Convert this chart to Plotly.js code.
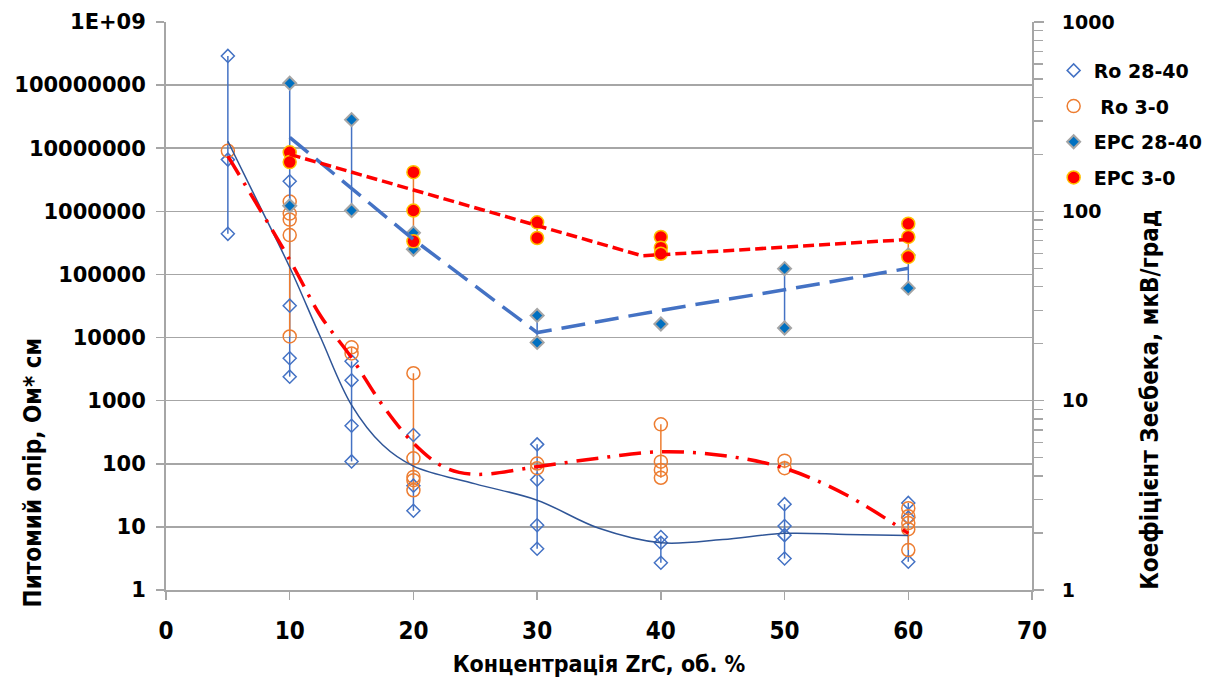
<!DOCTYPE html>
<html>
<head>
<meta charset="utf-8">
<script src="https://cdn.plot.ly/plotly-3.0.1.min.js"></script>
<style>html,body{margin:0;padding:0;background:#fff;}#chart{width:1221px;height:684px;}</style>
</head>
<body>
<div id="chart"></div>
<script>
// ---- data ----
const roX_2840 = [5,5,5, 10,10,10,10, 15,15,15,15, 20,20,20, 30,30,30,30, 40,40,40, 50,50,50,50, 60,60,60];
const roY_2840 = [2.9e8,6.6e6,4.4e5, 3.0e6,3.2e4,4.7e3,2.4e3, 4.2e3,2.1e3,400,109, 286,45,18, 203,56,10.6,4.5, 6.9,5.6,2.7, 22.9,10.3,7.4,3.15, 24,14,2.8];

const roX_30 = [5, 10,10,10,10,10, 15,15, 20,20,20,20,20, 30,30, 40,40,40,40, 50,50, 60,60,60,60,60];
const roY_30 = [9.1e6, 1.43e6,9.2e5,7.4e5,4.2e5,1.04e4, 7000,5600, 2720,122,62,55,38, 101,85, 422,108,80,60, 112,85, 19.8,14.8,11.5,9.2,4.3];

const epcX_2840 = [10,10, 15,15, 20,20, 30,30, 40, 50,50, 60,60];
const epcY_2840 = [475,107, 305,101, 77,63, 28.2,20.3, 25.4, 49.8,24.2, 58.8,39.3];

const epcX_30 = [10,10, 20,20,20, 30,30, 40,40,40, 60,60,60];
const epcY_30 = [205,182, 161,101,69.4, 87.5,72.3, 73.2,64.3,59.7, 86,73.2,57.4];

// trend lines
const trRo2840X = [5, 7.5, 10, 12.5, 15, 17.5, 20, 25, 30, 35, 40, 45, 50, 55, 60];
const trRo2840Y = [1.29e7, 1.3e6, 1.3e5, 1.0e4, 850, 200, 92, 48, 26.5, 9.5, 5.6, 6.3, 7.9, 7.6, 7.3];

const trRo30X = [5, 10, 12.5, 15, 17.5, 20, 22.5, 25, 30, 35, 40, 45, 50, 55, 60];
const trRo30Y = [7.5e6, 1.7e5, 2.2e4, 4.8e3, 850, 213, 88, 68, 90, 123, 155, 135, 85, 32, 7.9];

const trEpc2840X = [10, 20, 30, 40, 50, 60];
const trEpc2840Y = [246, 71, 22.9, 30, 38.5, 50];

const trEpc30X = [10, 38.5, 40, 60];
const trEpc30Y = [200, 58.2, 59, 71];

const leftTickVals = [1,10,100,1000,1e4,1e5,1e6,1e7,1e8,1e9];
const leftTickText = ['1','10','100','1000','10000','100000','1000000','10000000','100000000','1E+09'];
const rightTickVals = [1,10,100,1000];
const rightTickText = ['1','10','100','1000'];
const xTickVals = [0,10,20,30,40,50,60,70];

const names = ['Ro 28-40',' Ro 3-0','EPC 28-40','EPC 3-0'];
const xTitle = 'Концентрація ZrC, об. %';
const yTitle = 'Питомий опір, Ом* см';
const y2Title = 'Коефіцієнт Зеєбека, мкВ/град';

// ---- helpers ----
function verticalSegments(xs, ys){
  const groups = {};
  xs.forEach((x,i)=>{ (groups[x] = groups[x] || []).push(ys[i]); });
  const lx=[], ly=[];
  Object.keys(groups).map(Number).sort((a,b)=>a-b).forEach(x=>{
    const v = groups[x];
    lx.push(x,x,null); ly.push(Math.min(...v), Math.max(...v), null);
  });
  return {lx, ly};
}

const BLUE='#4472C4', ORANGE='#ED7D31', RED='#FF0000', DBLUE='#2F5597', FILLBLUE='#0070C0', GRAY='#A6A6A6';
const NARROW = '"Liberation Sans Narrow", "DejaVu Sans Condensed", sans-serif';
const WIDE = '"DejaVu Sans", sans-serif';

const s1 = verticalSegments(roX_2840, roY_2840);
const s2 = verticalSegments(roX_30, roY_30);
const s3 = verticalSegments(epcX_2840, epcY_2840);
const s4 = verticalSegments(epcX_30, epcY_30);

const traces = [
  {x:s1.lx, y:s1.ly, mode:'lines', line:{color:BLUE,width:1.5}, showlegend:false, hoverinfo:'skip', yaxis:'y'},
  {x:s2.lx, y:s2.ly, mode:'lines', line:{color:ORANGE,width:1.5}, showlegend:false, hoverinfo:'skip', yaxis:'y'},
  {x:roX_2840, y:roY_2840, name:names[0], legendgroup:'g1', mode:'markers', yaxis:'y',
   marker:{symbol:'diamond-open', size:10, color:BLUE, line:{width:1.5, color:BLUE}}},
  {x:roX_30, y:roY_30, name:names[1], legendgroup:'g2', mode:'markers', yaxis:'y',
   marker:{symbol:'circle-open', size:13, color:ORANGE, line:{width:1.5, color:ORANGE}}},
  {x:trRo2840X, y:trRo2840Y, mode:'lines', line:{color:DBLUE, width:1.5, shape:'spline', smoothing:1}, showlegend:false, hoverinfo:'skip', yaxis:'y'},
  {x:trRo30X, y:trRo30Y, mode:'lines', line:{color:RED, width:3.5, shape:'spline', smoothing:1, dash:'22px,9px,3px,9px'}, showlegend:false, hoverinfo:'skip', yaxis:'y'},
  {x:s3.lx, y:s3.ly, mode:'lines', line:{color:BLUE,width:1.5}, showlegend:false, hoverinfo:'skip', yaxis:'y2'},
  {x:s4.lx, y:s4.ly, mode:'lines', line:{color:ORANGE,width:1.5}, showlegend:false, hoverinfo:'skip', yaxis:'y2'},
  {x:epcX_2840, y:epcY_2840, name:names[2], legendgroup:'g3', mode:'markers', yaxis:'y2',
   marker:{symbol:'diamond', size:10, color:FILLBLUE, line:{width:2, color:'#A5A5A5'}}},
  {x:epcX_30, y:epcY_30, name:names[3], legendgroup:'g4', mode:'markers', yaxis:'y2',
   marker:{symbol:'circle', size:13, color:RED, line:{width:1.5, color:'#FFC000'}}},
  {x:trEpc2840X, y:trEpc2840Y, mode:'lines', line:{color:BLUE, width:3.5, dash:'24px,10px'}, showlegend:false, hoverinfo:'skip', yaxis:'y2'},
  {x:trEpc30X, y:trEpc30Y, mode:'lines', line:{color:RED, width:3.5, dash:'11px,5px'}, showlegend:false, hoverinfo:'skip', yaxis:'y2'}
];

const minorRight = [];
for (let d=1; d<1000; d*=10) for (let k=2; k<=9; k++) minorRight.push(k*d);

const layout = {
  width:1221, height:684,
  margin:{l:166, r:189, t:22, b:94},
  paper_bgcolor:'#fff', plot_bgcolor:'#fff',
  showlegend:true,
  legend:{x:1.025, y:0.948, xanchor:'left', yanchor:'top', bgcolor:'rgba(0,0,0,0)',
          traceorder:'grouped', tracegroupgap:8,
          font:{family:WIDE, size:19, color:'#000', weight:'bold'}},
  xaxis:{range:[0,70], tickmode:'array', tickvals:xTickVals, ticks:'outside', ticklen:8, tickwidth:1.5, tickcolor:GRAY,
         showline:true, linecolor:GRAY, linewidth:2, showgrid:false, zeroline:false,
         tickfont:{family:NARROW, size:24, color:'#000', weight:'bold'}, ticklabelstandoff:10,
         title:{text:xTitle, font:{family:NARROW, size:23, color:'#000', weight:'bold'}, standoff:12}},
  yaxis:{type:'log', range:[0,9], tickmode:'array', tickvals:leftTickVals, ticktext:leftTickText,
         ticks:'outside', ticklen:8, tickwidth:1.5, tickcolor:GRAY,
         showline:true, linecolor:GRAY, linewidth:2, showgrid:true, gridcolor:GRAY, gridwidth:1.5, zeroline:false,
         tickfont:{family:WIDE, size:21, color:'#000', weight:'bold'}, ticklabelstandoff:6},
  yaxis2:{type:'log', range:[0,3], overlaying:'y', side:'right', tickmode:'array', tickvals:rightTickVals, ticktext:rightTickText,
          ticks:'outside', ticklen:10, tickwidth:1.5, tickcolor:GRAY,
          minor:{tickmode:'array', tickvals:minorRight, ticks:'outside', ticklen:9, tickwidth:1.5, tickcolor:GRAY, showgrid:false},
          showline:true, linecolor:GRAY, linewidth:2, showgrid:false, zeroline:false,
          tickfont:{family:WIDE, size:19, color:'#000', weight:'bold'}, ticklabelstandoff:14},
  annotations:[
    {text:yTitle, xref:'paper', yref:'paper', x:-0.1536, y:0.207, xanchor:'center', yanchor:'middle', textangle:-90, showarrow:false,
     font:{family:NARROW, size:24, color:'#000', weight:'bold'}},
    {text:y2Title, xref:'paper', yref:'paper', x:1.136, y:0.3345, xanchor:'center', yanchor:'middle', textangle:-90, showarrow:false,
     font:{family:NARROW, size:24, color:'#000', weight:'bold'}}
  ]
};

Plotly.newPlot('chart', traces, layout, {displayModeBar:false, staticPlot:true});
</script>
</body>
</html>
